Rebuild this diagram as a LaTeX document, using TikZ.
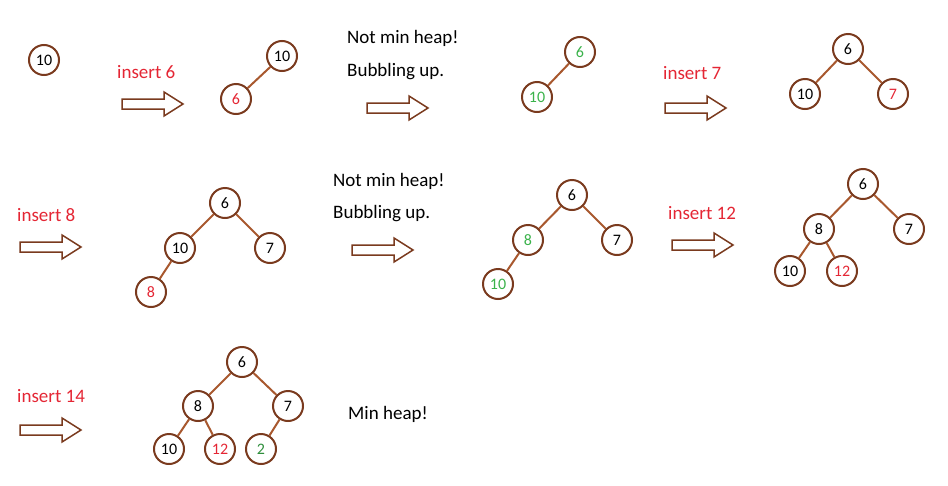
\documentclass[tikz,border=0pt]{standalone}
\usepackage{fontspec}
\setmainfont{Carlito}
\definecolor{heap-brown}{RGB}{122, 58, 30}
\definecolor{edge-brown}{RGB}{168, 88, 46}
\definecolor{heap-red}{RGB}{228, 38, 52}
\definecolor{heap-green}{RGB}{58, 178, 74}
\tikzset{
  key/.style={circle, draw=heap-brown, line width=2pt, minimum size=30pt, inner sep=0pt, font=\fontsize{16}{16}\selectfont},
  edge/.style={draw=edge-brown, line width=2pt},
  caption/.style={anchor=west, inner sep=0pt, font=\fontsize{19}{19}\selectfont},
  fatarrow/.pic={\draw[draw=heap-brown, line width=1.5pt, line join=miter] (0,-5) -- (42,-5) -- (42,-12) -- (61,0) -- (42,12) -- (42,5) -- (0,5) -- cycle;}
}
\begin{document}
\begin{tikzpicture}[x=1pt, y=-1pt]
\useasboundingbox (0,0) rectangle (948,485);

\node[key] (a10) at (44,60) {10};

\node[caption, text=heap-red] (i6) at (117,72) {insert 6};
\pic at (122,104) {fatarrow};
\node[key] (b10) at (282,56) {10};
\node[key, text=heap-red] (b6) at (236,99) {6};
\draw[edge] (b6) -- (b10);

\node[caption] (nm1) at (347,38) {Not min heap!};
\node[caption] (bu1) at (347,72) {Bubbling up.};
\pic at (367,108) {fatarrow};
\node[key, text=heap-green] (c6) at (580,52) {6};
\node[key, text=heap-green] (c10) at (537,97) {10};
\draw[edge] (c10) -- (c6);

\node[caption, text=heap-red] (i7) at (663,73) {insert 7};
\pic at (665,108) {fatarrow};
\node[key] (d6) at (848,49) {6};
\node[key] (d10) at (805,94) {10};
\node[key, text=heap-red] (d7) at (893,94) {7};
\draw[edge] (d10) -- (d6) -- (d7);

\node[caption, text=heap-red] (i8) at (17,215) {insert 8};
\pic at (20,247) {fatarrow};
\node[key] (e6) at (225,203) {6};
\node[key] (e10) at (180,248) {10};
\node[key] (e7) at (270,248) {7};
\node[key, text=heap-red] (e8) at (151,292) {8};
\draw[edge] (e10) -- (e6) -- (e7);
\draw[edge] (e8) -- (e10);

\node[caption] (nm2) at (333,181) {Not min heap!};
\node[caption] (bu2) at (333,214) {Bubbling up.};
\pic at (352,250) {fatarrow};
\node[key] (f6) at (572,195) {6};
\node[key, text=heap-green] (f8) at (528,240) {8};
\node[key] (f7) at (617,240) {7};
\node[key, text=heap-green] (f10) at (498,284) {10};
\draw[edge] (f8) -- (f6) -- (f7);
\draw[edge] (f10) -- (f8);

\node[caption, text=heap-red] (i12) at (668,213) {insert 12};
\pic at (672,245) {fatarrow};
\node[key] (g6) at (863,184) {6};
\node[key] (g8) at (819,229) {8};
\node[key] (g7) at (909,229) {7};
\node[key] (g10) at (790,271) {10};
\node[key, text=heap-red] (g12) at (842,271) {12};
\draw[edge] (g8) -- (g6) -- (g7);
\draw[edge] (g10) -- (g8) -- (g12);

\node[caption, text=heap-red] (i14) at (17,396) {insert 14};
\pic at (20,430) {fatarrow};
\node[key] (h6) at (242,362) {6};
\node[key] (h8) at (198,406) {8};
\node[key] (h7) at (288,406) {7};
\node[key] (h10) at (169,449) {10};
\node[key, text=heap-red] (h12) at (220,449) {12};
\node[key, text=heap-green!80!black] (h2) at (261,449) {2};
\draw[edge] (h8) -- (h6) -- (h7);
\draw[edge] (h10) -- (h8) -- (h12);
\draw[edge] (h2) -- (h7);

\node[caption] (mh) at (348,414) {Min heap!};
\end{tikzpicture}
\end{document}
